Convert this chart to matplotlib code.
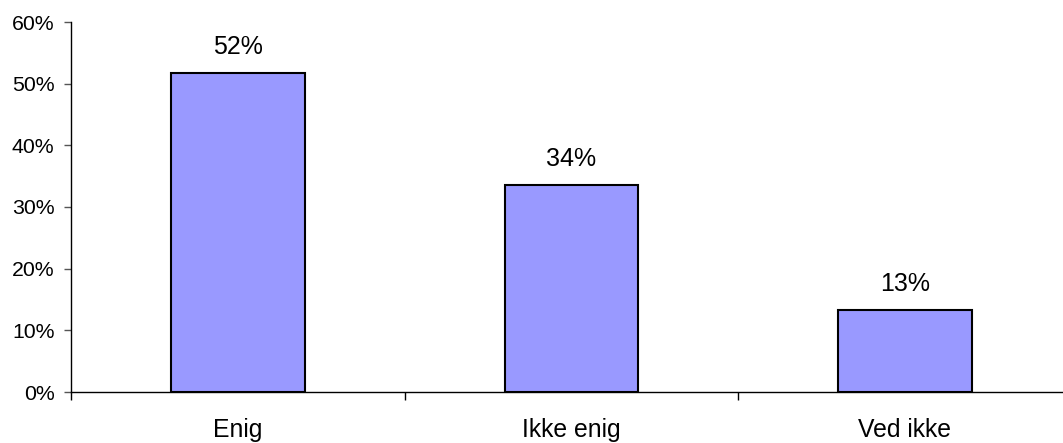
import matplotlib
matplotlib.use("Agg")
import matplotlib.pyplot as plt
import numpy as np

categories = ["Enig", "Ikke enig", "Ved ikke"]
values = [51.7, 33.6, 13.3]
labels = ["52%", "34%", "13%"]
yticks = [0, 10, 20, 30, 40, 50, 60]
ytick_labels = ["0%", "10%", "20%", "30%", "40%", "50%", "60%"]

plt.rcParams['font.family'] = ['Liberation Sans', 'DejaVu Sans']

fig = plt.figure(figsize=(10.63, 4.43), dpi=100)
ax = fig.add_axes([71.25/1063, 51/443, 1000.5/1063, 370/443])

x = np.arange(len(categories))
bars = ax.bar(x, values, width=0.4, color="#9999FF", edgecolor="black", linewidth=1.5, zorder=3)
for xi, v, lab in zip(x, values, labels):
    ax.annotate(lab, (xi, v), xytext=(0, 14), textcoords="offset pixels",
                ha="center", va="bottom", fontsize=18)

ax.set_xlim(-0.5, 2.5)
ax.set_ylim(0, 60)
ax.set_yticks(yticks)
ax.set_yticklabels(ytick_labels, fontsize=15.3)
ax.set_xticks(x)
ax.set_xticklabels(categories, fontsize=17.8)
ax.tick_params(axis="x", which="major", length=0, pad=19)
ax.set_xticks([-0.5, 0.5, 1.5, 2.5], minor=True)
ax.tick_params(axis="x", which="minor", length=6, width=1, color="black", direction="out")
ax.tick_params(axis="y", length=5, width=1, color="#555555", pad=7)
for s in ["top", "right"]:
    ax.spines[s].set_visible(False)
ax.spines["left"].set_linewidth(1)
ax.spines["bottom"].set_linewidth(1)

fig.savefig("out.png", dpi=100)
